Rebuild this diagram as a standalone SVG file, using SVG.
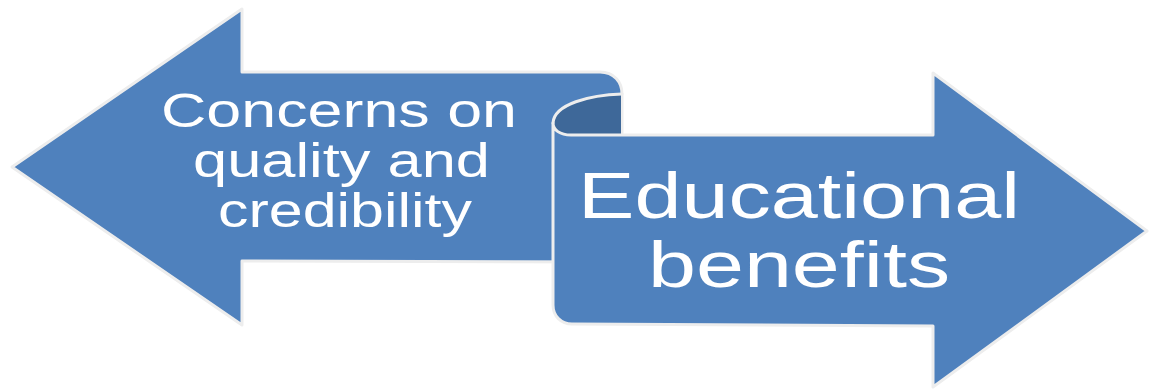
<svg xmlns="http://www.w3.org/2000/svg" width="1149" height="391" viewBox="0 0 1149 391">
  <style>
    .band { fill: #4F81BD; stroke: #EDEDED; stroke-width: 3; stroke-linejoin: round; }
    .curl { fill: #3E6899; stroke: none; }
    .edge { fill: none; stroke: #EDEDED; stroke-width: 3; stroke-linecap: round; }
    .label { fill: #FFFFFF; font-family: "Liberation Sans", Arial, sans-serif; }
  </style>
  <rect width="1149" height="391" fill="#FFFFFF"/>
  <g id="left-arrow">
    <path class="band" d="M12,167 L242,9 L242,72 L600,72 C614,72 622,82 622,94 L622,262 L242,261 L242,325 Z"/>
  </g>
  <g id="curl">
    <path class="curl" d="M553,123 C554,104 590,95 621,95 L621,134 L570,134 C560,134 553,130 553,123 Z"/>
    <path class="edge" d="M553,123 C554,104 590,95 622,94"/>
  </g>
  <g id="right-arrow">
    <path class="band" d="M553,123 C553,130 560,135 571,135 L933,135 L933,73 L1147,231 L933,387 L933,326 L572,324 C561,324 553,316 553,305 Z"/>
  </g>
  <g id="left-text" class="label" font-size="49">
    <text x="161" y="127" textLength="356" lengthAdjust="spacingAndGlyphs">Concerns on</text>
    <text x="193" y="177" textLength="297" lengthAdjust="spacingAndGlyphs">quality and</text>
    <text x="218" y="227" textLength="254" lengthAdjust="spacingAndGlyphs">credibility</text>
  </g>
  <g id="right-text" class="label" font-size="64">
    <text x="578" y="218" textLength="442" lengthAdjust="spacingAndGlyphs">Educational</text>
    <text x="648" y="287" textLength="302" lengthAdjust="spacingAndGlyphs">benefits</text>
  </g>
  <g id="connectors"/>
</svg>
